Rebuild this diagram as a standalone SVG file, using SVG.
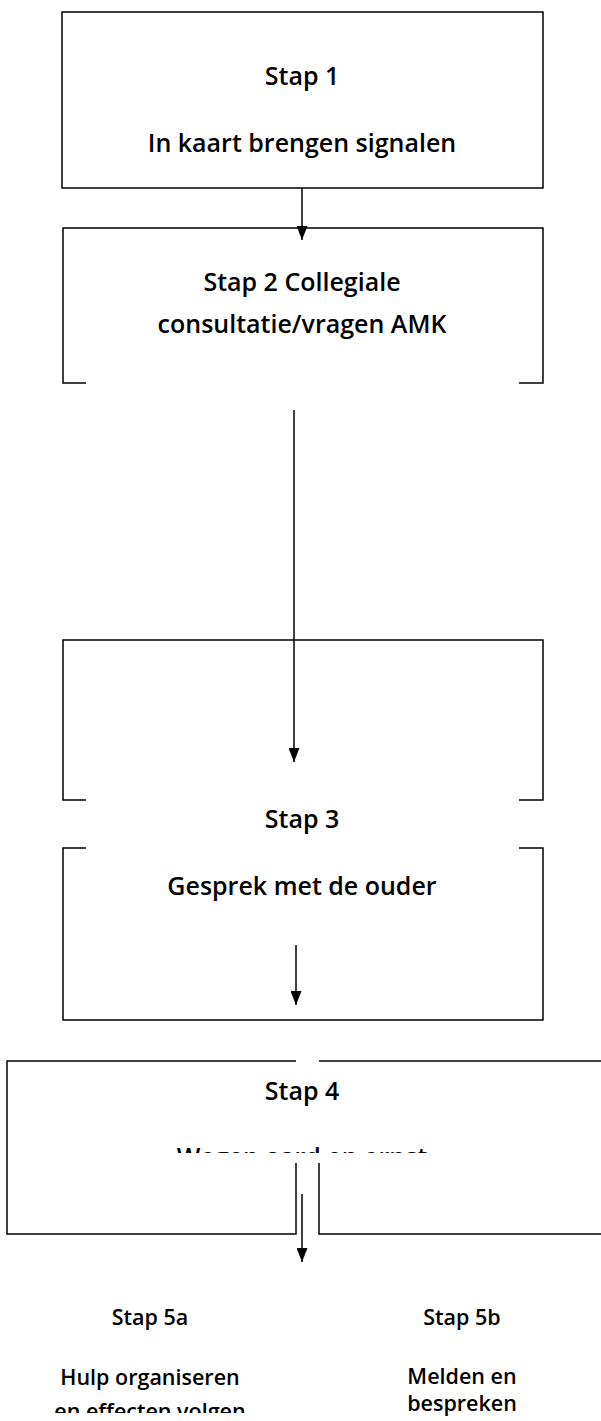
<svg xmlns="http://www.w3.org/2000/svg" width="601" height="1421" viewBox="0 0 601 1421">
<style>
.box{fill:none;stroke:#000;stroke-width:1.5}
.t{font-family:"Open Sans","Liberation Sans",sans-serif;font-weight:600;font-size:25px;fill:#000;text-anchor:middle}
.s{font-size:21.5px}
.c{stroke:#000;stroke-width:1.5;fill:none}
</style>
<defs>
<marker id="ah" markerUnits="userSpaceOnUse" markerWidth="14" markerHeight="11" refX="14" refY="5.5" orient="auto" viewBox="0 0 14 11">
<path d="M0,0 L14,5.5 L0,11 z" fill="#000"/>
</marker>
<clipPath id="clip4"><rect x="0" y="1100" width="601" height="53"/></clipPath>
<clipPath id="clip5"><rect x="0" y="1300" width="300" height="113"/></clipPath>
</defs>
<rect width="601" height="1421" fill="#fff"/>
<g id="connectors">
<line class="c" x1="302" y1="188" x2="302" y2="240" marker-end="url(#ah)"/>
<line class="c" x1="294" y1="410" x2="294" y2="762" marker-end="url(#ah)"/>
<line class="c" x1="296" y1="945" x2="296" y2="1005" marker-end="url(#ah)"/>
<line class="c" x1="302" y1="1194" x2="302" y2="1262" marker-end="url(#ah)"/>
</g>
<g id="stap1">
<rect class="box" x="62" y="12" width="481" height="176"/>
<text class="t" x="302" y="85">Stap 1</text>
<text class="t" x="302" y="152">In kaart brengen signalen</text>
</g>
<g id="stap2">
<path class="box" d="M86,383 H63 V228 H543 V383 H519"/>
<text class="t" x="302" y="291">Stap 2 Collegiale</text>
<text class="t" x="302" y="333">consultatie/vragen AMK</text>
</g>
<g id="stap3">
<path class="box" d="M86,800 H63 V640 H543 V800 H519"/>
<path class="box" d="M86,848 H63 V1020 H543 V848 H519"/>
<text class="t" x="302" y="828">Stap 3</text>
<text class="t" x="302" y="895">Gesprek met de ouder</text>
</g>
<g id="stap4">
<path class="box" d="M296,1061 H7 V1234 H296 V1163"/>
<path class="box" d="M319,1061 H610"/>
<path class="box" d="M319,1163 V1234 H610"/>
<text class="t" x="302" y="1100">Stap 4</text>
<text class="t" x="302" y="1166" clip-path="url(#clip4)">Wegen aard en ernst</text>
</g>
<g id="stap5a">
<text class="t s" x="150" y="1325">Stap 5a</text>
<text class="t s" x="150" y="1385">Hulp organiseren</text>
<text class="t s" x="150" y="1419" clip-path="url(#clip5)">en effecten volgen</text>
</g>
<g id="stap5b">
<text class="t s" x="462" y="1325">Stap 5b</text>
<text class="t s" x="462" y="1384">Melden en</text>
<text class="t s" x="462" y="1411">bespreken</text>
</g>
</svg>
